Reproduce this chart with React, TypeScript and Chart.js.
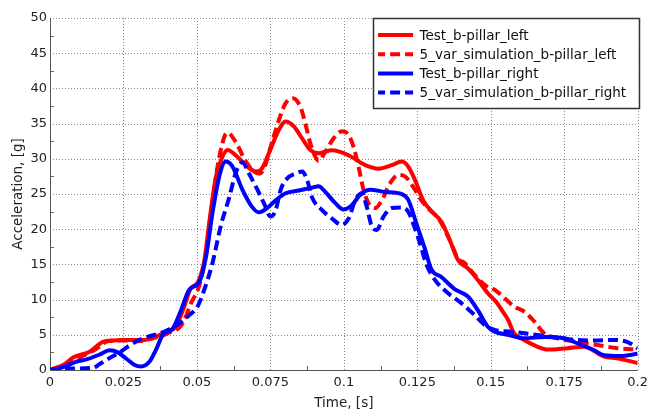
import React, { useEffect, useRef } from "react";
import { Chart, registerables } from "chart.js";

Chart.register(...registerables);

// ---------- data ----------
const seriesNames = [
  "Test_b-pillar_left",
  "5_var_simulation_b-pillar_left",
  "Test_b-pillar_right",
  "5_var_simulation_b-pillar_right",
];

const testLeftT = [0, 0.0045, 0.008, 0.0135, 0.018, 0.0215, 0.0248, 0.0316, 0.035, 0.0395, 0.0429, 0.0455, 0.0478, 0.0505, 0.0525, 0.0542, 0.0565, 0.0587, 0.0604, 0.0632, 0.0666, 0.07, 0.0717, 0.0745, 0.0773, 0.0802, 0.083, 0.0858, 0.0886, 0.0914, 0.096, 0.1016, 0.1073, 0.1118, 0.1163, 0.1197, 0.1219, 0.1242, 0.127, 0.1304, 0.1332, 0.136, 0.1389, 0.1423, 0.1456, 0.149, 0.1518, 0.1541, 0.1558, 0.158, 0.1603, 0.166, 0.1693, 0.1761, 0.1818, 0.1885, 0.193, 0.2];
const testLeftV = [0, 0.7, 1.8, 2.6, 4.0, 4.2, 4.25, 4.25, 4.6, 5.4, 6.2, 8.8, 11.5, 12.6, 15.5, 21.0, 27.5, 30.3, 31.25, 30.5, 29.1, 28.2, 28.4, 30.8, 33.6, 35.3, 34.6, 32.9, 31.25, 30.8, 31.2, 30.5, 29.1, 28.6, 29.1, 29.6, 28.9, 27.0, 24.1, 22.3, 21.1, 18.5, 15.6, 14.4, 12.8, 10.9, 9.7, 8.3, 7.2, 5.2, 4.5, 3.3, 2.9, 3.1, 3.3, 1.9, 1.65, 1.0];

const simLeftT = [0, 0.005, 0.01, 0.015, 0.02, 0.025, 0.03, 0.035, 0.04, 0.045, 0.048, 0.0508, 0.0531, 0.0553, 0.0575, 0.0595, 0.0604, 0.0632, 0.066, 0.0689, 0.0711, 0.0728, 0.0751, 0.0779, 0.0802, 0.0826, 0.0852, 0.0869, 0.0886, 0.0903, 0.0914, 0.0937, 0.0965, 0.0993, 0.1016, 0.1033, 0.105, 0.1067, 0.1084, 0.1107, 0.1129, 0.1157, 0.1185, 0.1208, 0.1236, 0.1264, 0.1293, 0.1321, 0.136, 0.1389, 0.1411, 0.1445, 0.1479, 0.1513, 0.1547, 0.158, 0.1614, 0.1648, 0.1682, 0.1727, 0.1795, 0.1863, 0.1931, 0.2];
const simLeftV = [0, 0.8, 1.8, 2.8, 4.1, 4.2, 4.1, 4.5, 5.2, 6.5, 9.5, 12.0, 16.5, 24.0, 30.0, 33.3, 33.7, 32.4, 30.1, 28.4, 27.9, 28.6, 31.7, 35.5, 37.9, 38.6, 37.4, 35.0, 32.2, 30.3, 29.7, 31.0, 32.9, 33.9, 33.4, 31.7, 28.9, 25.6, 23.7, 23.0, 24.1, 26.5, 27.7, 27.5, 26.0, 24.1, 22.7, 21.6, 18.5, 15.8, 15.2, 13.5, 12.1, 11.4, 10.2, 9.0, 8.3, 6.9, 5.2, 4.5, 4.0, 3.55, 3.1, 2.9];

const testRightT = [0, 0.0045, 0.009, 0.0124, 0.0169, 0.0203, 0.0231, 0.026, 0.0288, 0.031, 0.0339, 0.0361, 0.0384, 0.0418, 0.0446, 0.0474, 0.0508, 0.0531, 0.0553, 0.0576, 0.0598, 0.0621, 0.0655, 0.0689, 0.0711, 0.0739, 0.0768, 0.0802, 0.0847, 0.0892, 0.0914, 0.0937, 0.0971, 0.0999, 0.1027, 0.1056, 0.109, 0.114, 0.1197, 0.1219, 0.1247, 0.1276, 0.1298, 0.1332, 0.1377, 0.1423, 0.1456, 0.149, 0.1513, 0.1558, 0.1614, 0.1682, 0.175, 0.1795, 0.1852, 0.1885, 0.1942, 0.2];
const testRightV = [0, 0.4, 1.2, 1.5, 2.2, 2.8, 2.5, 1.6, 0.7, 0.5, 1.2, 2.9, 5.0, 5.9, 8.5, 11.4, 12.5, 16.1, 22.3, 27.5, 29.6, 28.9, 25.6, 23.1, 22.4, 23.0, 24.1, 25.1, 25.5, 25.9, 26.1, 25.3, 23.7, 22.8, 23.4, 24.9, 25.6, 25.3, 25.0, 24.2, 20.8, 17.2, 14.3, 13.2, 11.5, 10.4, 8.5, 6.15, 5.45, 5.0, 4.5, 4.7, 4.5, 3.8, 2.8, 2.1, 2.0, 2.3];

const simRightT = [0, 0.006, 0.0147, 0.0169, 0.0203, 0.0237, 0.0271, 0.0305, 0.0339, 0.0373, 0.0406, 0.044, 0.0474, 0.0502, 0.0525, 0.0553, 0.0582, 0.061, 0.0632, 0.0655, 0.0677, 0.0706, 0.0728, 0.0751, 0.0768, 0.0785, 0.0807, 0.0836, 0.0858, 0.0875, 0.0892, 0.0926, 0.096, 0.0993, 0.1016, 0.1039, 0.1061, 0.1078, 0.1095, 0.1112, 0.1135, 0.1163, 0.1197, 0.1219, 0.1236, 0.1259, 0.1281, 0.131, 0.1355, 0.14, 0.1445, 0.1479, 0.1513, 0.1569, 0.1637, 0.1705, 0.1772, 0.184, 0.1919, 0.1964, 0.2];
const simRightV = [0, 0.2, 0.3, 0.85, 1.7, 2.5, 3.5, 4.3, 4.8, 5.2, 5.8, 6.6, 7.8, 9.0, 11.4, 15.2, 20.6, 24.5, 28.0, 29.5, 27.9, 25.6, 23.7, 21.8, 22.7, 25.6, 27.2, 27.9, 28.2, 27.0, 24.5, 22.7, 21.5, 20.6, 21.5, 24.1, 25.1, 23.2, 20.4, 19.9, 21.8, 23.0, 23.1, 22.5, 20.8, 18.0, 15.0, 12.8, 10.9, 9.5, 7.8, 6.4, 5.7, 5.45, 5.1, 4.7, 4.35, 4.2, 4.26, 4.0, 3.1];

const xTickValues = [0, 0.025, 0.05, 0.075, 0.1, 0.125, 0.15, 0.175, 0.2];
const xTickLabels = ["0", "0.025", "0.05", "0.075", "0.1", "0.125", "0.15", "0.175", "0.2"];
const yTickValues = [0, 5, 10, 15, 20, 25, 30, 35, 40, 45, 50];
const yTickLabels = ["0", "5", "10", "15", "20", "25", "30", "35", "40", "45", "50"];

const xTitle = "Time, [s]";
const yTitle = "Acceleration, [g]";

// ---------- styles ----------
const RED = "#ff0000";
const BLUE = "#0000ff";
const DASH = [10, 5];
const FONT = "'DejaVu Sans', Verdana, sans-serif";

const seriesStyles = [
  { color: RED, dash: [] as number[] },
  { color: RED, dash: DASH },
  { color: BLUE, dash: [] as number[] },
  { color: BLUE, dash: DASH },
];

const toPoints = (t: number[], v: number[]) => t.map((x, i) => ({ x, y: v[i] }));

const gridPlugin = {
  id: "customGrid",
  beforeDatasetsDraw(chart: any) {
    const { ctx, chartArea: a, scales } = chart;
    const xs = scales.x;
    const ys = scales.y;
    ctx.save();
    ctx.lineWidth = 1;
    ctx.strokeStyle = "#8a8a8a";
    ctx.setLineDash([1, 2]);
    for (const v of xTickValues) {
      if (v === 0) continue;
      const px = Math.round(xs.getPixelForValue(v)) + 0.5;
      ctx.beginPath();
      ctx.moveTo(px, a.top);
      ctx.lineTo(px, a.bottom);
      ctx.stroke();
    }
    for (const v of yTickValues) {
      if (v === 0) continue;
      const py = Math.round(ys.getPixelForValue(v)) + 0.5;
      ctx.beginPath();
      ctx.moveTo(a.left, py);
      ctx.lineTo(a.right, py);
      ctx.stroke();
    }
    ctx.setLineDash([]);
    // minor ticks
    ctx.strokeStyle = "#666";
    for (let i = 0; i < xTickValues.length - 1; i++) {
      const mid = (xTickValues[i] + xTickValues[i + 1]) / 2;
      const px = Math.round(xs.getPixelForValue(mid)) + 0.5;
      ctx.beginPath();
      ctx.moveTo(px, a.bottom);
      ctx.lineTo(px, a.bottom - 4);
      ctx.stroke();
    }
    for (let i = 0; i < yTickValues.length - 1; i++) {
      const mid = (yTickValues[i] + yTickValues[i + 1]) / 2;
      const py = Math.round(ys.getPixelForValue(mid)) + 0.5;
      ctx.beginPath();
      ctx.moveTo(a.left, py);
      ctx.lineTo(a.left + 4, py);
      ctx.stroke();
    }
    // axis lines
    ctx.strokeStyle = "#555";
    const lx = Math.round(a.left) + 0.5;
    const by = Math.round(a.bottom) + 0.5;
    ctx.beginPath();
    ctx.moveTo(lx, a.top);
    ctx.lineTo(lx, by);
    ctx.lineTo(a.right, by);
    ctx.stroke();
    ctx.restore();
  },
};

const legendPlugin = {
  id: "boxLegend",
  afterDatasetsDraw(chart: any) {
    const { ctx, chartArea: a } = chart;
    ctx.save();
    ctx.font = `13.5px ${FONT}`;
    let maxW = 0;
    for (const n of seriesNames) maxW = Math.max(maxW, ctx.measureText(n).width);
    const w = 47 + maxW + 12;
    const h = 90;
    const right = a.right + 1;
    const left = right - w;
    const top = a.top;
    ctx.fillStyle = "#fff";
    ctx.fillRect(left, top, w, h);
    ctx.strokeStyle = "#333";
    ctx.lineWidth = 1.5;
    ctx.strokeRect(Math.round(left) + 0.5, Math.round(top) + 0.5, Math.round(w), h);
    ctx.textBaseline = "middle";
    ctx.textAlign = "left";
    seriesNames.forEach((name, i) => {
      const cy = top + 17 + i * 19.2;
      const st = seriesStyles[i];
      ctx.strokeStyle = st.color;
      ctx.lineWidth = 4;
      ctx.setLineDash(st.dash);
      ctx.lineDashOffset = st.dash.length ? 3 : 0;
      ctx.beginPath();
      ctx.moveTo(left + 5, cy);
      ctx.lineTo(left + 40, cy);
      ctx.stroke();
      ctx.setLineDash([]);
      ctx.fillStyle = "#111";
      ctx.fillText(name, left + 46.5, cy + 1);
    });
    ctx.restore();
  },
};

export default function App() {
  const canvasRef = useRef<HTMLCanvasElement | null>(null);

  useEffect(() => {
    const canvas = canvasRef.current;
    if (!canvas) return;
    const seriesData = [
      toPoints(testLeftT, testLeftV),
      toPoints(simLeftT, simLeftV),
      toPoints(testRightT, testRightV),
      toPoints(simRightT, simRightV),
    ];
    const chart = new Chart(canvas, {
      type: "line",
      data: {
        datasets: seriesNames.map((name, i) => ({
          label: name,
          data: seriesData[i],
          borderColor: seriesStyles[i].color,
          backgroundColor: seriesStyles[i].color,
          borderDash: seriesStyles[i].dash,
          borderWidth: 4,
          pointRadius: 0,
          pointHoverRadius: 0,
          fill: false,
          cubicInterpolationMode: "monotone" as const,
          borderCapStyle: "butt" as const,
          borderJoinStyle: "round" as const,
          order: 4 - i,
        })),
      },
      options: {
        animation: false,
        responsive: false,
        devicePixelRatio: 1,
        events: [],
        layout: { padding: { top: 18, right: 12.5, left: 0, bottom: 0 } },
        plugins: {
          legend: { display: false },
          tooltip: { enabled: false },
        },
        scales: {
          x: {
            type: "linear",
            min: 0,
            max: 0.2,
            grid: { display: false, drawTicks: false },
            border: { display: false },
            afterBuildTicks: (scale: any) => {
              scale.ticks = xTickValues.map((v) => ({ value: v }));
            },
            afterFit: (scale: any) => {
              scale.height = 43;
            },
            ticks: {
              autoSkip: false,
              maxRotation: 0,
              padding: 5,
              color: "#222",
              font: { family: FONT, size: 13 },
              callback: (_v: any, idx: number) => xTickLabels[idx],
            },
            title: {
              display: true,
              text: xTitle,
              color: "#222",
              font: { family: FONT, size: 13.5 },
              padding: { top: 0, bottom: 1 },
            },
          },
          y: {
            type: "linear",
            min: 0,
            max: 50,
            grid: { display: false, drawTicks: false },
            border: { display: false },
            afterBuildTicks: (scale: any) => {
              scale.ticks = yTickValues.map((v) => ({ value: v }));
            },
            afterFit: (scale: any) => {
              scale.width = 50;
            },
            ticks: {
              autoSkip: false,
              padding: 3,
              color: "#222",
              font: { family: FONT, size: 13 },
              callback: (_v: any, idx: number) => yTickLabels[idx],
            },
            title: {
              display: true,
              text: yTitle,
              color: "#222",
              font: { family: FONT, size: 13.5 },
              padding: { top: 10, bottom: 0 },
            },
          },
        },
      },
      plugins: [gridPlugin, legendPlugin],
    });
    return () => chart.destroy();
  }, []);

  return (
    <div style={{ position: "fixed", left: 0, top: 0, width: 653, height: 413, background: "#fff" }}>
      <canvas ref={canvasRef} width={653} height={413} style={{ display: "block" }} />
    </div>
  );
}
